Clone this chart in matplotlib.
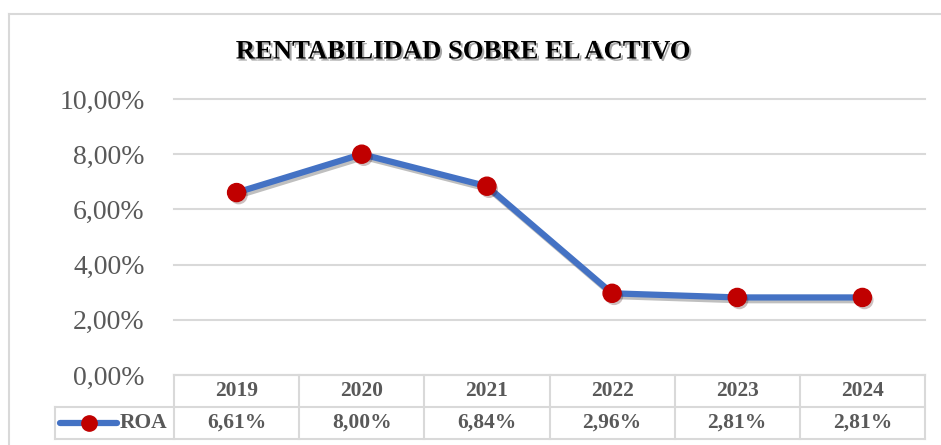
import matplotlib
matplotlib.use("Agg")
import matplotlib.pyplot as plt
import matplotlib.patheffects as pe
from matplotlib.lines import Line2D
import matplotlib.transforms as mtransforms

years = ["2019", "2020", "2021", "2022", "2023", "2024"]
roa = [6.61, 8.00, 6.84, 2.96, 2.81, 2.81]
yticks = [0, 2, 4, 6, 8, 10]
title = "RENTABILIDAD SOBRE EL ACTIVO"
series_name = "ROA"

W, H = 941, 445
fig = plt.figure(figsize=(W / 100, H / 100), dpi=100)
fig.patch.set_facecolor("white")

SERIF = "Liberation Serif"
GRAY = "#595959"
GRID = "#D9D9D9"
BLUE = "#4472C4"
RED = "#C00000"

def fx(px):
    return px / W
def fy(py):
    return 1 - py / H

# chart frame
fig.add_artist(Line2D([fx(9), fx(9)], [fy(14), fy(450)], color=GRID, lw=1.5))
fig.add_artist(Line2D([fx(9), fx(945)], [fy(14), fy(14)], color=GRID, lw=1.5))

left, right, top, bottom = 174, 925, 99, 375
ax = fig.add_axes([fx(left), fy(bottom), (right - left) / W, (bottom - top) / H])
ax.set_xlim(-0.5, len(years) - 0.5)
ax.set_ylim(0, 10)
for s in ax.spines.values():
    s.set_visible(False)
ax.set_xticks([])
ax.set_yticks(yticks)
ax.set_yticklabels([f"{v:.2f}".replace(".", ",") + "%" for v in yticks],
                   fontfamily=SERIF, fontsize=20, color=GRAY)
ax.tick_params(axis="y", length=0, pad=21)
for v in yticks:
    ax.axhline(v, color=GRID, lw=1.5, zorder=1, clip_on=False)

x = list(range(len(years)))
shadow = [pe.SimpleLineShadow(offset=(1.5, -2), shadow_color="black", alpha=0.25), pe.Normal()]
ax.plot(x, roa, color=BLUE, lw=4.5, solid_capstyle="round", zorder=3, path_effects=shadow)
ax.plot(x, roa, ls="none", marker="o", markersize=13, markerfacecolor=RED,
        markeredgecolor=RED, zorder=4,
        path_effects=[pe.SimplePatchShadow(offset=(1.5, -2), alpha=0.25), pe.Normal()])

# title
fig.text(0.4915, fy(52), title, ha="center", va="center", fontfamily=SERIF,
         fontweight="bold", fontsize=19.2, color="black",
         path_effects=[pe.withSimplePatchShadow(offset=(1.5, -1.5), shadow_rgbFace="black", alpha=0.35)])

# data table below axes
trans = mtransforms.blended_transform_factory(ax.transData, ax.transAxes)
rowh = 32 / (bottom - top)
colw_px = (right - left) / len(years)
leg_left = -0.5 + (55 - left) / colw_px
lkw = dict(color=GRID, lw=1.5, transform=trans, clip_on=False, zorder=2)
ax.add_line(Line2D([-0.5, len(years) - 0.5], [0, 0], **lkw))
ax.add_line(Line2D([leg_left, len(years) - 0.5], [-rowh, -rowh], **lkw))
ax.add_line(Line2D([leg_left, len(years) - 0.5], [-2 * rowh, -2 * rowh], **lkw))
for i in range(len(years) + 1):
    ax.add_line(Line2D([i - 0.5, i - 0.5], [0, -2 * rowh], **lkw))
ax.add_line(Line2D([leg_left, leg_left], [-rowh, -2 * rowh], **lkw))

tkw = dict(transform=trans, ha="center", va="center", fontfamily=SERIF,
           fontweight="bold", fontsize=15.5, color=GRAY, clip_on=False)
for i, (yr, v) in enumerate(zip(years, roa)):
    ax.text(i, -0.5 * rowh, yr, **tkw)
    ax.text(i, -1.5 * rowh, f"{v:.2f}".replace(".", ",") + "%", **tkw)

# legend key
lx0 = leg_left + (60 - 55) / colw_px
lx1 = leg_left + (117 - 55) / colw_px
lxm = (lx0 + lx1) / 2
ax.add_line(Line2D([lx0, lx1], [-1.5 * rowh, -1.5 * rowh], color=BLUE, lw=4.5,
                   solid_capstyle="round", transform=trans, clip_on=False, zorder=3))
ax.add_line(Line2D([lxm], [-1.5 * rowh], ls="none", marker="o", markersize=11,
                   markerfacecolor=RED, markeredgecolor=RED, transform=trans,
                   clip_on=False, zorder=4))
ax.text(leg_left + (120 - 55) / colw_px, -1.5 * rowh, series_name, transform=trans,
        ha="left", va="center", fontfamily=SERIF, fontweight="bold", fontsize=15.5,
        color=GRAY, clip_on=False)

fig.savefig("out.png", dpi=100, facecolor="white")
